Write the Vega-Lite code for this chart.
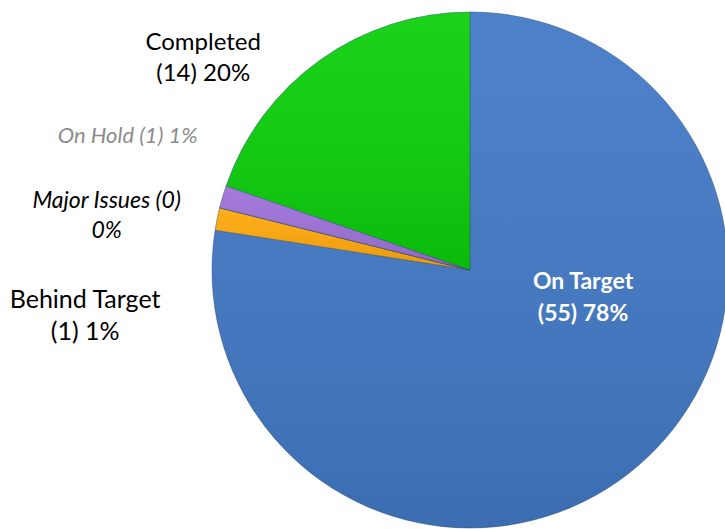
{
  "$schema": "https://vega.github.io/schema/vega-lite/v6.json",
  "width": 725,
  "height": 529,
  "padding": 0,
  "autosize": {"type": "none"},
  "background": "white",
  "data": {
    "values": [
      {"status": "On Target", "count": 55, "order": 1, "label": "On Target\n(55) 78%"},
      {"status": "Behind Target", "count": 1, "order": 2, "label": "Behind Target\n(1) 1%"},
      {"status": "Major Issues", "count": 0, "order": 3, "label": "Major Issues (0)\n0%"},
      {"status": "On Hold", "count": 1, "order": 4, "label": "On Hold (1) 1%"},
      {"status": "Completed", "count": 14, "order": 5, "label": "Completed\n(14) 20%"}
    ]
  },
  "encoding": {
    "theta": {"field": "count", "type": "quantitative", "stack": true},
    "order": {"field": "order", "type": "quantitative"}
  },
  "layer": [
    {
      "mark": {"type": "arc", "outerRadius": 258, "x": 470, "y": 270, "stroke": "#2f4f7a", "strokeWidth": 0.7, "strokeOpacity": 0.7},
      "encoding": {
        "color": {
          "field": "status", "type": "nominal", "legend": null,
          "scale": {
            "domain": ["On Target", "Behind Target", "Major Issues", "On Hold", "Completed"],
            "range": ["#4279C6", "#FFA80A", "#C0392B", "#9E72D9", "#0BD00B"]
          }
        }
      }
    },
    {
      "mark": {
        "type": "arc", "outerRadius": 258, "x": 470, "y": 270,
        "color": {
          "gradient": "linear", "x1": 0, "y1": 0, "x2": 0, "y2": 1,
          "stops": [
            {"offset": 0, "color": "rgba(255,255,255,0.06)"},
            {"offset": 1, "color": "rgba(0,0,0,0.1)"}
          ]
        }
      }
    },
    {
      "mark": {"type": "text", "x": 470, "y": 270, "radius": 120, "dx": 35, "dy": -79, "lineBreak": "\n", "font": "Lato", "fontSize": 23, "fontWeight": "bold", "fill": "white", "align": "center", "baseline": "middle", "lineHeight": 32},
      "encoding": {"text": {"condition": {"test": "datum.status === 'On Target'", "field": "label"}, "value": ""}}
    },
    {
      "mark": {"type": "text", "x": 470, "y": 270, "radius": 258, "dx": -117, "dy": -17, "lineBreak": "\n", "font": "Lato", "fontSize": 24, "fill": "black", "align": "center", "baseline": "middle", "lineHeight": 31},
      "encoding": {"text": {"condition": {"test": "datum.status === 'Completed'", "field": "label"}, "value": ""}}
    },
    {
      "mark": {"type": "text", "x": 470, "y": 270, "radius": 258, "dx": -25, "dy": -61, "lineBreak": "\n", "font": "Lato", "fontSize": 22, "fontStyle": "italic", "fill": "#8c8c8c", "align": "right", "baseline": "middle"},
      "encoding": {"text": {"condition": {"test": "datum.status === 'On Hold'", "field": "label"}, "value": ""}}
    },
    {
      "mark": {"type": "text", "x": 470, "y": 270, "radius": 258, "dx": -113, "dy": -7, "lineBreak": "\n", "font": "Lato", "fontSize": 23, "fontStyle": "italic", "fill": "black", "align": "center", "baseline": "middle", "lineHeight": 30},
      "encoding": {"text": {"condition": {"test": "datum.status === 'Major Issues'", "field": "label"}, "value": ""}}
    },
    {
      "mark": {"type": "text", "x": 470, "y": 270, "radius": 258, "dx": -132, "dy": 81, "lineBreak": "\n", "font": "Lato", "fontSize": 25, "fill": "black", "align": "center", "baseline": "middle", "lineHeight": 32},
      "encoding": {"text": {"condition": {"test": "datum.status === 'Behind Target'", "field": "label"}, "value": ""}}
    }
  ]
}
